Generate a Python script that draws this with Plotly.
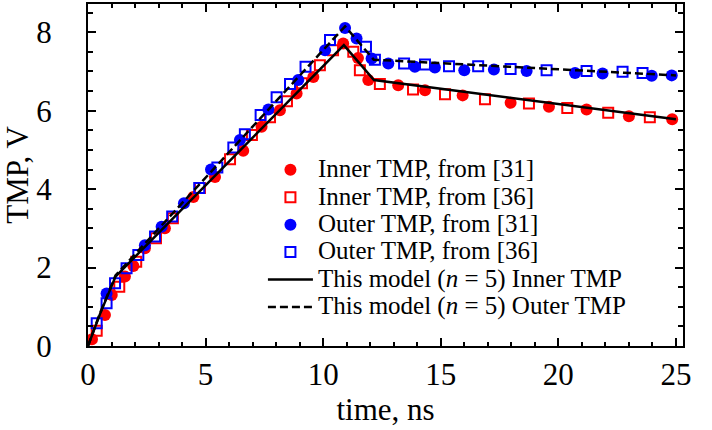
import plotly.graph_objects as go

# ---- data ----
inner31_t = [0.17, 0.72, 1.01, 1.57, 1.93, 2.42, 3.27, 4.48, 5.40, 6.60, 7.38, 8.16, 8.87, 9.58,
             10.85, 11.48, 11.92, 13.19, 14.33, 15.93, 17.97, 19.60, 21.20, 23.00, 24.84]
inner31_v = [0.17, 0.79, 1.30, 1.77, 2.04, 2.49, 3.00, 3.80, 4.31, 4.98, 5.59, 6.01, 6.44, 6.86,
             7.71, 7.34, 6.78, 6.65, 6.52, 6.39, 6.20, 6.10, 6.03, 5.86, 5.78]

inner36_t = [0.37, 1.33, 2.05, 2.89, 3.61, 4.76, 6.04, 6.97, 7.74, 8.46, 9.10, 9.86, 10.42,
             11.28, 11.56, 12.41, 13.82, 15.18, 16.88, 18.75, 20.38, 22.12, 23.89]
inner36_v = [0.39, 1.51, 2.15, 2.75, 3.26, 4.03, 4.76, 5.38, 5.83, 6.24, 6.70, 7.16, 7.54,
             7.50, 7.03, 6.68, 6.54, 6.42, 6.29, 6.18, 6.07, 5.95, 5.83]

outer31_t = [0.79, 2.42, 3.13, 4.08, 5.23, 6.46, 7.67, 8.94, 10.08, 10.93, 11.42, 12.06, 12.77,
             13.90, 14.75, 16.00, 17.26, 18.65, 20.71, 21.88, 23.97, 24.82]
outer31_v = [1.34, 2.57, 3.04, 3.64, 4.50, 5.25, 6.03, 6.78, 7.54, 8.11, 7.84, 7.33, 7.20,
             7.12, 7.10, 7.03, 7.05, 7.01, 6.96, 6.95, 6.89, 6.90]

outer36_t = [0.37, 0.79, 1.15, 1.64, 2.14, 2.85, 3.58, 4.73, 5.50, 6.18, 6.67, 7.34, 8.02, 8.59,
             9.25, 10.29, 11.82, 12.20, 13.44, 14.33, 15.35, 16.59, 17.97, 19.50, 21.20, 22.73, 23.58]
outer36_v = [0.58, 1.09, 1.60, 1.98, 2.32, 2.79, 3.30, 4.03, 4.55, 5.06, 5.40, 5.89, 6.34, 6.68,
             7.12, 7.80, 7.63, 7.30, 7.20, 7.18, 7.13, 7.13, 7.06, 7.03, 7.01, 6.99, 6.96]

model_inner_t = [0, 0.5, 1.17, 10.88, 12.16, 25]
model_inner_v = [0, 0.80, 1.77, 7.67, 6.78, 5.78]

model_outer_t = [0, 0.5, 1.17, 10.93, 12.15, 25]
model_outer_v = [0, 0.82, 1.80, 8.15, 7.30, 6.90]

labels = ["Inner TMP, from [31]", "Inner TMP, from [36]", "Outer TMP, from [31]",
          "Outer TMP, from [36]", "This model (<i>n</i> = 5) Inner TMP",
          "This model (<i>n</i> = 5) Outer TMP"]

FONT = "Liberation Serif, Times New Roman, serif"


def lab(s):
    return '<span style="font-size:25px">' + s + '</span>'


fig = go.Figure()
fig.add_trace(go.Scatter(x=inner31_t, y=inner31_v, mode="markers", name=lab(labels[0]),
                         marker=dict(symbol="circle", size=12, color="#ff0000")))
fig.add_trace(go.Scatter(x=inner36_t, y=inner36_v, mode="markers", name=lab(labels[1]),
                         marker=dict(symbol="square-open", size=10, color="#ff0000",
                                     line=dict(width=2, color="#ff0000"))))
fig.add_trace(go.Scatter(x=outer31_t, y=outer31_v, mode="markers", name=lab(labels[2]),
                         marker=dict(symbol="circle", size=12, color="#0000ff")))
fig.add_trace(go.Scatter(x=outer36_t, y=outer36_v, mode="markers", name=lab(labels[3]),
                         marker=dict(symbol="square-open", size=10, color="#0000ff",
                                     line=dict(width=2, color="#0000ff"))))
fig.add_trace(go.Scatter(x=model_inner_t, y=model_inner_v, mode="lines", name=lab(labels[4]),
                         line=dict(color="black", width=2.5)))
fig.add_trace(go.Scatter(x=model_outer_t, y=model_outer_v, mode="lines", name=lab(labels[5]),
                         line=dict(color="black", width=2.5, dash="8px,4px")))

axis_common = dict(
    showgrid=False, zeroline=False, showline=True, linecolor="black", linewidth=2,
    mirror="ticks", ticks="inside", tickcolor="black", tickwidth=1.5, ticklen=8,
    tickfont=dict(family=FONT, size=31, color="black"), automargin=False,
)

fig.update_xaxes(**axis_common, range=[0, 25.3], tick0=0, dtick=5,
                 minor=dict(ticks="inside", dtick=1, ticklen=4, tickcolor="black", tickwidth=1.5),
                 title=dict(text="time, ns", font=dict(family=FONT, size=31, color="black"),
                            standoff=2))
fig.update_yaxes(**axis_common, range=[0, 8.72], tick0=0, dtick=2,
                 minor=dict(ticks="inside", dtick=0.5, ticklen=5, tickcolor="black", tickwidth=1.5),
                 ticklabelstandoff=28,
                 title=dict(text="TMP, V", font=dict(family=FONT, size=31, color="black")))

fig.update_layout(
    width=712, height=430,
    margin=dict(l=88, r=29, t=4, b=84, autoexpand=False),
    plot_bgcolor="white", paper_bgcolor="white",
    font=dict(family=FONT, color="black"),
    legend=dict(x=0.294, y=0.57, xanchor="left", yanchor="top", bgcolor="rgba(0,0,0,0)",
                font=dict(family=FONT, size=18.8, color="black"), itemwidth=45,
                tracegroupgap=0),
    showlegend=True,
)

fig.write_html("out.html", config={"displayModeBar": False},
               post_script="document.body.style.margin='0';document.body.style.padding='0';")
